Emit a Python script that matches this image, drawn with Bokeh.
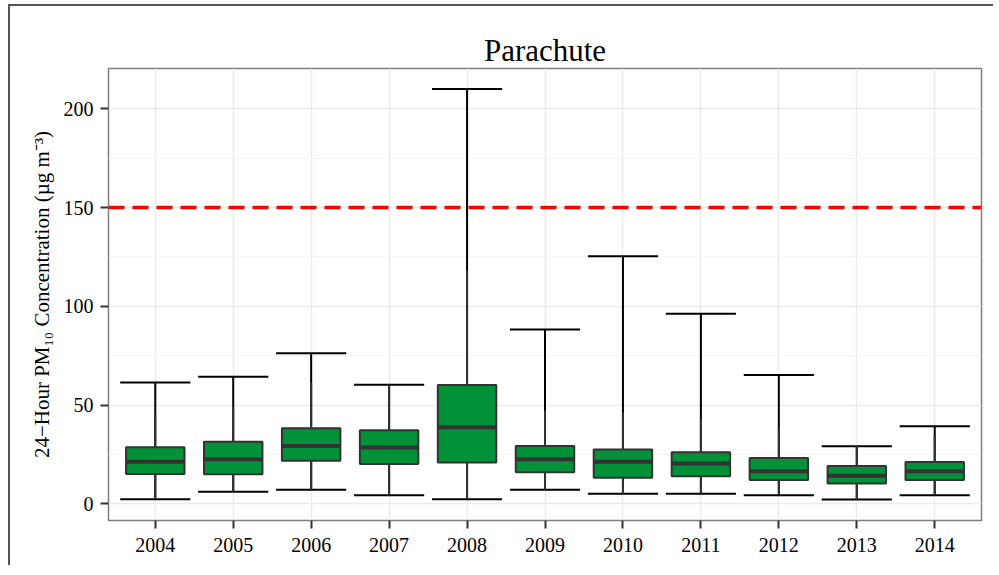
from bokeh.plotting import figure
from bokeh.models import Range1d, FixedTicker, Span, ColumnDataSource
from bokeh.embed import file_html
from bokeh.resources import INLINE

# ---- data ----
years = ["2004", "2005", "2006", "2007", "2008", "2009", "2010", "2011", "2012", "2013", "2014"]
data_min = [2.4, 6.2, 7.2, 4.4, 2.4, 7.2, 5.2, 5.2, 4.4, 2.2, 4.4]
q1 = [15.2, 15.0, 21.9, 20.2, 20.9, 16.0, 13.3, 14.0, 12.1, 10.3, 12.1]
median = [21.4, 22.6, 29.3, 28.5, 38.8, 22.6, 21.4, 20.4, 16.5, 14.3, 16.5]
q3 = [28.7, 31.4, 38.3, 37.3, 60.2, 29.3, 27.5, 26.1, 23.3, 19.2, 21.2]
whisker_hi = [45.0, 49.2, 61.3, 60.3, 118.0, 47.2, 46.2, 43.0, 39.1, 29.2, 34.5]
data_max = [61.4, 64.4, 76.2, 60.3, 210.0, 88.3, 125.4, 96.2, 65.2, 29.2, 39.3]
standard = 150
y_ticks = [0, 50, 100, 150, 200]
y_minor = [25, 75, 125, 175]

pos = list(range(1, len(years) + 1))
box_w = 0.75
cap_w = 0.9

src = ColumnDataSource(dict(
    x=pos,
    lo=data_min, q1=q1, med=median, q3=q3, whi=whisker_hi, hi=data_max,
    cap_l=[x - cap_w / 2 for x in pos], cap_r=[x + cap_w / 2 for x in pos],
    box_l=[x - box_w / 2 for x in pos], box_r=[x + box_w / 2 for x in pos],
))

SERIF = "Liberation Serif"

p = figure(width=985, height=561, output_backend="svg", toolbar_location=None,
           x_range=Range1d(0.4, 11.6), y_range=Range1d(-8.4, 220.4),
           min_border_left=98, min_border_right=14, min_border_top=62, min_border_bottom=47,
           title="Parachute", background_fill_color="white", border_fill_color="white")

p.styles = {"border-left": "2px solid #555555", "border-top": "2px solid #555555",
            "margin-top": "4px", "margin-left": "8px"}

p.title.text_font = SERIF
p.title.text_font_size = "31px"
p.title.text_font_style = "normal"
p.title.align = "center"
p.title.text_color = "black"
p.title.standoff = 1
p.title.offset = 0

xt = FixedTicker(ticks=pos)
yt = FixedTicker(ticks=y_ticks, minor_ticks=y_minor)
p.xaxis.ticker = xt
p.yaxis.ticker = yt
p.xgrid.ticker = xt
p.ygrid.ticker = yt
p.xaxis.major_label_overrides = {x: y for x, y in zip(pos, years)}

for ax in (p.xaxis, p.yaxis):
    ax.axis_line_color = None
    ax.major_tick_line_color = "#333333"
    ax.major_tick_line_width = 2
    ax.major_tick_out = 8
    ax.major_tick_in = 0
    ax.minor_tick_line_color = None
    ax.major_label_text_font = SERIF
    ax.major_label_text_font_size = "20px"
    ax.major_label_text_color = "black"
p.xaxis.major_label_standoff = 9
p.yaxis.major_label_standoff = 7

p.yaxis.axis_label = "24\u2212Hour PM\u2081\u2080 Concentration (\u00b5g m\u207b\u00b3)"
p.yaxis.axis_label_text_font = SERIF
p.yaxis.axis_label_text_font_size = "21px"
p.yaxis.axis_label_text_font_style = "normal"
p.yaxis.axis_label_text_color = "black"
p.yaxis.axis_label_standoff = 7

p.xgrid.grid_line_color = "#EBEBEB"
p.xgrid.grid_line_width = 1.5
p.ygrid.grid_line_color = "#EBEBEB"
p.ygrid.grid_line_width = 1.5
p.ygrid.minor_grid_line_color = "#F4F4F4"
p.ygrid.minor_grid_line_width = 1

p.outline_line_color = "#7F7F7F"
p.outline_line_width = 1.5

# threshold line
p.add_layout(Span(location=standard, dimension="width", line_color="#FF0000",
                  line_width=3.5, line_dash="16 8"))

# error bars (min to max)
p.segment(x0="x", y0="lo", x1="x", y1="hi", source=src, line_color="black", line_width=2)
p.segment(x0="cap_l", y0="hi", x1="cap_r", y1="hi", source=src, line_color="black", line_width=2)
p.segment(x0="cap_l", y0="lo", x1="cap_r", y1="lo", source=src, line_color="black", line_width=2)

# box-plot whiskers
p.segment(x0="x", y0="q3", x1="x", y1="whi", source=src, line_color="#333333", line_width=2)
p.segment(x0="x", y0="q1", x1="x", y1="lo", source=src, line_color="#333333", line_width=2)

# boxes
p.vbar(x="x", width=box_w, bottom="q1", top="q3", source=src,
       fill_color="#009139", line_color="#333333", line_width=2)
p.segment(x0="box_l", y0="med", x1="box_r", y1="med", source=src,
          line_color="#333333", line_width=4)

open("out.html", "w").write(file_html(p, INLINE))
